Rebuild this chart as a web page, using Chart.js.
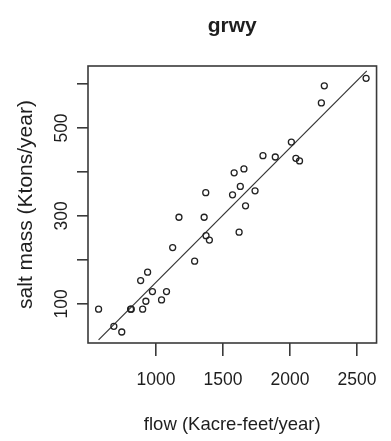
<!DOCTYPE html>
<html>
<head>
<meta charset="utf-8">
<script src="https://cdn.jsdelivr.net/npm/chart.js@4"></script>
<style>
  html, body { margin: 0; padding: 0; background: #fff; }
  canvas { display: block; }
</style>
</head>
<body>
<canvas id="c" width="391" height="441"></canvas>
<script>
// Salt load versus streamflow, with a fitted straight line
const chartTitle = 'grwy';
const xTitle = 'flow (Kacre-feet/year)';
const yTitle = 'salt mass (Ktons/year)';

const flow = [571, 685, 744, 810, 815, 900, 924, 973, 885, 937, 1041, 1078, 1124, 1171,
              1288, 1359, 1371, 1373, 1398, 1571, 1583, 1620, 1629, 1656, 1668, 1739,
              1798, 1890, 2010, 2044, 2071, 2234, 2256, 2568];
const saltMass = [88, 49, 36, 88, 88, 88, 106, 128, 153, 172, 109, 128, 228, 297,
                  197, 297, 353, 255, 245, 348, 398, 263, 367, 407, 323, 357,
                  437, 434, 468, 431, 425, 557, 596, 613];

// fitted line end points
const fitFlow = [571, 2573];
const fitSalt = [18, 630];

const xTicks = [1000, 1500, 2000, 2500];
const xTickLabels = ['1000', '1500', '2000', '2500'];
const yTicks = [100, 200, 300, 400, 500, 600];
const yTickLabels = ['100', '', '300', '', '500', ''];

const FONT = '"Liberation Sans", Arial, Helvetica, sans-serif';
const INK = '#1e1e1e';
const AXIS = '#3a3a3a';

// frame around the plotting region plus the main title above it
const framePlugin = {
  id: 'frame',
  afterDraw(chart) {
    const { ctx, chartArea: a } = chart;
    ctx.save();
    ctx.strokeStyle = AXIS;
    ctx.lineWidth = 1.6;
    ctx.strokeRect(a.left, a.top, a.right - a.left, a.bottom - a.top);
    ctx.fillStyle = INK;
    ctx.font = 'bold 21px ' + FONT;
    ctx.textAlign = 'center';
    ctx.textBaseline = 'middle';
    ctx.fillText(chartTitle, (a.left + a.right) / 2, 26);
    ctx.restore();
  }
};

new Chart(document.getElementById('c'), {
  type: 'scatter',
  data: {
    datasets: [
      {
        label: 'observed',
        data: flow.map((f, i) => ({ x: f, y: saltMass[i] })),
        pointStyle: 'circle',
        pointRadius: 3,
        pointHoverRadius: 3,
        borderWidth: 1.3,
        borderColor: '#222',
        backgroundColor: 'rgba(0,0,0,0)'
      },
      {
        label: 'fit',
        type: 'line',
        data: fitFlow.map((f, i) => ({ x: f, y: fitSalt[i] })),
        showLine: true,
        pointRadius: 0,
        borderWidth: 1.2,
        borderColor: '#333',
        fill: false
      }
    ]
  },
  options: {
    responsive: false,
    animation: false,
    devicePixelRatio: 1,
    layout: { padding: { top: 66, right: 8, left: 0, bottom: 0 } },
    plugins: {
      legend: { display: false },
      tooltip: { enabled: false },
      title: { display: false }
    },
    scales: {
      x: {
        type: 'linear',
        min: 492,
        max: 2646,
        afterBuildTicks: s => { s.ticks = xTicks.map(v => ({ value: v })); },
        afterFit: s => { s.height = 98; },
        border: { display: false },
        grid: { drawOnChartArea: false, drawTicks: true, tickLength: 13, color: AXIS, lineWidth: 1.6 },
        ticks: {
          autoSkip: false,
          maxRotation: 0,
          minRotation: 0,
          padding: 14,
          color: INK,
          font: { family: FONT, size: 17.5 },
          callback: v => xTickLabels[xTicks.indexOf(v)]
        },
        title: {
          display: true,
          text: xTitle,
          color: INK,
          font: { family: FONT, size: 18.5 },
          padding: { top: 0, bottom: 5 }
        }
      },
      y: {
        type: 'linear',
        min: 11,
        max: 641,
        afterBuildTicks: s => { s.ticks = yTicks.map(v => ({ value: v })); },
        afterFit: s => { s.width = 88; },
        border: { display: false },
        grid: { drawOnChartArea: false, drawTicks: true, tickLength: 11, color: AXIS, lineWidth: 1.6 },
        ticks: {
          autoSkip: false,
          minRotation: 90,
          maxRotation: 90,
          crossAlign: 'center',
          padding: 0,
          color: INK,
          font: { family: FONT, size: 17.5 },
          callback: v => yTickLabels[yTicks.indexOf(v)]
        },
        title: {
          display: true,
          text: yTitle,
          color: INK,
          font: { family: FONT, size: 21 },
          padding: { top: 13.5, bottom: 0 }
        }
      }
    }
  },
  plugins: [framePlugin]
});
</script>
</body>
</html>
